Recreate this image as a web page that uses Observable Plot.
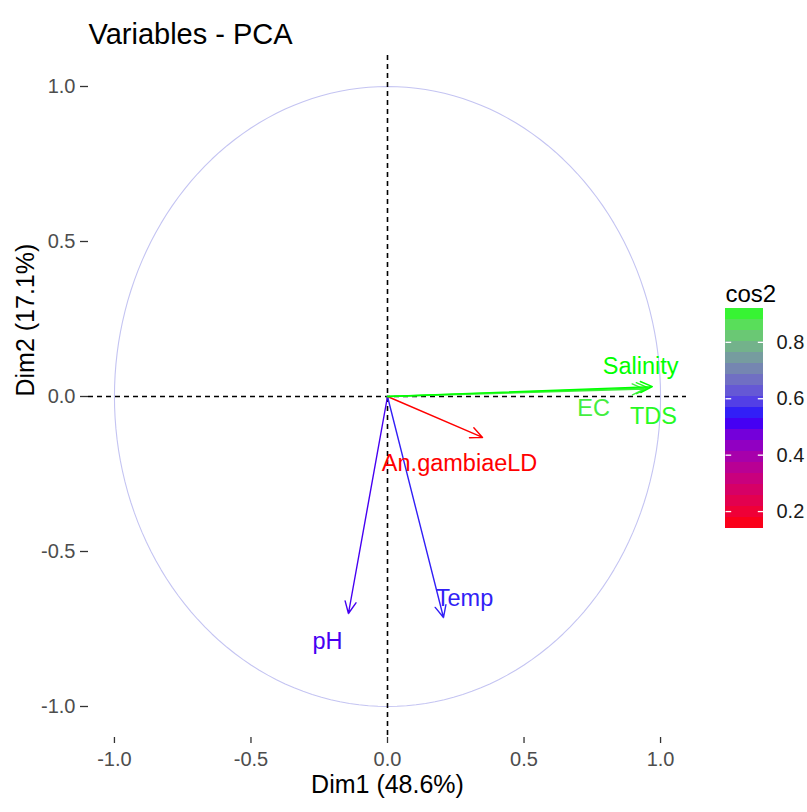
<!DOCTYPE html>
<html>
<head>
<meta charset="utf-8">
<script src="https://cdn.jsdelivr.net/npm/d3@7"></script>
<script src="https://cdn.jsdelivr.net/npm/@observablehq/plot@0.6"></script>
<style>
  html, body { margin: 0; padding: 0; background: #fff; }
  #wrap { position: relative; width: 807px; height: 812px; font-family: "Liberation Sans", Arial, sans-serif; }
  #legend { position: absolute; left: 700px; top: 260px; }
</style>
</head>
<body>
<div id="wrap"><div id="main"></div><div id="legend"></div></div>
<script>
// ---- data ----
const variables = ["pH", "Temp", "An.gambiaeLD", "EC", "TDS", "Salinity"];
const dim1 = [-0.143, 0.205, 0.348, 0.940, 0.955, 0.970];
const dim2 = [-0.700, -0.713, -0.132, 0.024, 0.028, 0.032];
const cos2 = [0.51, 0.55, 0.14, 0.89, 0.91, 0.92];
const labelX = [-0.220, 0.282, 0.264, 0.755, 0.974, 0.927];
const labelY = [-0.790, -0.652, -0.216, -0.039, -0.065, 0.097];
const xTicks = [-1.0, -0.5, 0.0, 0.5, 1.0];
const yTicks = [-1.0, -0.5, 0.0, 0.5, 1.0];
const legendTicks = [0.2, 0.4, 0.6, 0.8];
const cos2Domain = [0.14, 0.53, 0.92];
const cos2Colors = ["#ff0000", "#0000ff", "#00ff00"];

const rows = variables.map((v, i) => ({name: v, dim1: dim1[i], dim2: dim2[i], cos2: cos2[i], lx: labelX[i], ly: labelY[i]}));
const circle = d3.range(0, 361, 2).map(a => ({x: Math.cos(a * Math.PI / 180), y: Math.sin(a * Math.PI / 180)}));

const colorOpts = {type: "linear", domain: cos2Domain, range: cos2Colors, interpolate: d3.interpolateLab, clamp: true};
const font = "Liberation Sans, Arial, sans-serif";
const fmt = d => d.toFixed(1);

const main = Plot.plot({
  width: 807, height: 812,
  marginTop: 55, marginBottom: 75, marginLeft: 88, marginRight: 121,
  style: {fontFamily: font, background: "white", overflow: "visible"},
  x: {domain: [-1.095, 1.095]},
  y: {domain: [-1.1, 1.1]},
  color: colorOpts,
  marks: [
    Plot.line(circle, {x: "x", y: "y", stroke: "#c4c4f2", strokeWidth: 1.1}),
    Plot.ruleX([0], {stroke: "black", strokeWidth: 1.6, strokeDasharray: "5,4"}),
    Plot.ruleY([0], {stroke: "black", strokeWidth: 1.6, strokeDasharray: "5,4"}),
    Plot.arrow(rows, {x1: d => 0, y1: d => 0, x2: "dim1", y2: "dim2", stroke: "cos2", strokeWidth: 1.4, headLength: 14, headAngle: 50}),
    Plot.text(rows, {x: "lx", y: "ly", text: "name", fill: "cos2", fontSize: 23.5}),
    Plot.axisX({ticks: xTicks, tickFormat: fmt, tickSize: 6, tickPadding: 8, fontSize: 20, stroke: "#333", fill: "#4d4d4d", strokeWidth: 1.3, label: null}),
    Plot.axisY({ticks: yTicks, tickFormat: fmt, tickSize: 8, tickPadding: 5, fontSize: 20, stroke: "#333", fill: "#4d4d4d", strokeWidth: 1.3, label: null}),
    Plot.text(["Dim1 (48.6%)"], {frameAnchor: "bottom", dy: 55, fontSize: 25, fill: "black"}),
    Plot.text(["Dim2 (17.1%)"], {frameAnchor: "left", dx: -63, rotate: -90, fontSize: 25, fill: "black"}),
    Plot.text(["Variables - PCA"], {frameAnchor: "top-left", dy: -32, textAnchor: "start", fontSize: 29, fill: "black"})
  ]
});
document.getElementById("main").appendChild(main);

// ---- legend (colour bar) ----
const nBins = 20;
const lo = cos2Domain[0], hi = cos2Domain[2];
const bins = d3.range(nBins).map(i => {
  const a = lo + (hi - lo) * i / nBins, b = lo + (hi - lo) * (i + 1) / nBins;
  return {y1: a, y2: b, v: (a + b) / 2};
});
const legend = Plot.plot({
  width: 107, height: 300,
  marginTop: 48, marginBottom: 32, marginLeft: 25, marginRight: 44,
  style: {fontFamily: font, background: "transparent", overflow: "visible"},
  x: {domain: [0, 1], axis: null},
  y: {domain: [lo, hi], axis: null},
  color: colorOpts,
  marks: [
    Plot.rect(bins, {x1: d => 0, x2: d => 1, y1: "y1", y2: "y2", fill: "v"}),
    Plot.link(legendTicks, {x1: d => 0, x2: d => 0.15, y1: d => d, y2: d => d, stroke: "white", strokeWidth: 1.3}),
    Plot.link(legendTicks, {x1: d => 0.85, x2: d => 1, y1: d => d, y2: d => d, stroke: "white", strokeWidth: 1.3}),
    Plot.text(legendTicks, {x: d => 1, y: d => d, text: fmt, dx: 13, textAnchor: "start", fontSize: 20, fill: "#1a1a1a"}),
    Plot.text(["cos2"], {frameAnchor: "top-left", dy: -24, textAnchor: "start", fontSize: 24, fill: "black"})
  ]
});
document.getElementById("legend").appendChild(legend);
</script>
</body>
</html>
